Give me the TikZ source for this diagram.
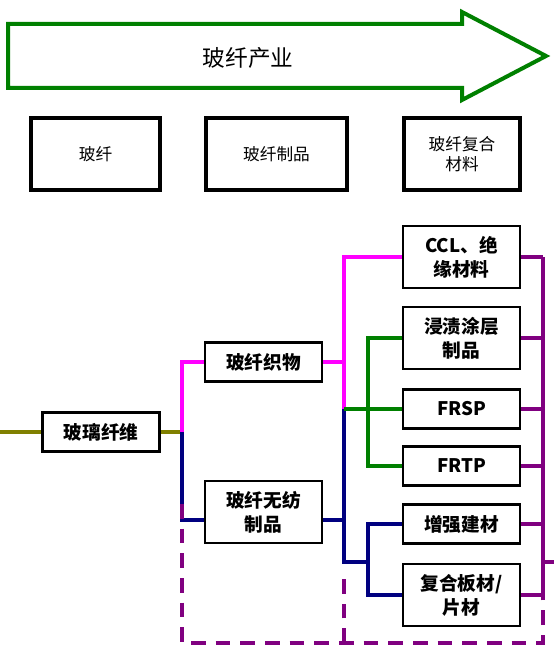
\documentclass[tikz,border=0pt]{standalone}
\usepackage{fontspec}
\setmainfont{Noto Sans CJK SC}
\usepackage{tikz}
\usepackage{xcolor}
\definecolor{arrgreen}{RGB}{0,128,0}
\definecolor{olivel}{RGB}{128,128,0}
\definecolor{magl}{RGB}{255,0,255}
\definecolor{navyl}{RGB}{0,0,128}
\definecolor{greenl}{RGB}{0,128,0}
\definecolor{purpl}{RGB}{128,0,128}
\tikzset{
  topbox/.style={draw,line width=2.6pt,minimum height=54pt,inner sep=0.75pt,align=center,font=\fontsize{12.5}{15.5}\selectfont},
  chainbox/.style={draw,line width=1.6pt,minimum width=87.75pt,minimum height=29.25pt,inner sep=0.75pt,align=center,font=\bfseries\fontsize{14}{18}\selectfont},
  tallbox/.style={chainbox,minimum height=46.5pt},
  link/.style={line width=2.3pt},
  dashlink/.style={line width=3pt,purpl,dash pattern=on 11pt off 7.5pt},
}
\begin{document}
\begin{tikzpicture}[x=0.75pt,y=0.75pt,yscale=-1,xscale=1]
\useasboundingbox (0,0) rectangle (554,660);
% industry arrow
\draw [arrgreen,line width=3pt,line join=miter] (8,24) -- (462,24) -- (462,12) -- (546,56) -- (462,100) -- (462,88) -- (8,88) -- cycle;
\node (ind) at (248,58) {\fontsize{17}{20}\selectfont 玻纤产业};
% stage boxes
\node [topbox,minimum width=96.75pt] (st1) at (95.5,154) {玻纤};
\node [topbox,minimum width=105.75pt] (st2) at (276.5,154) {玻纤制品};
\node [topbox,minimum width=87pt] (st3) at (462,154) {玻纤复合\\材料};
% chain
\node [chainbox] (fib) at (101,432) {玻璃纤维};
\node [chainbox] (fab) at (263.5,362) {玻纤织物};
\node [tallbox] (nw) at (263.5,512) {玻纤无纺\\制品};
\node [tallbox] (ccl) at (461.5,257) {CCL、绝\\缘材料};
\node [tallbox] (imp) at (461.5,338) {浸渍涂层\\制品};
\node [chainbox] (frsp) at (461.5,409) {FRSP};
\node [chainbox] (frtp) at (461.5,466) {FRTP};
\node [chainbox] (bld) at (461.5,524) {增强建材};
\node [tallbox] (pan) at (461.5,595) {复合板材/\\片材};
\coordinate (in) at (0,432);
\coordinate (ja) at (182,432);
\coordinate (jb) at (344,409);
\coordinate (jc) at (368,562);
\coordinate (jd) at (543,562);
\coordinate (out) at (554,562);
% olive
\draw [link,olivel] (in) -- (fib.west);
\draw [link,olivel] (fib.east) -- (ja);
% magenta
\draw [link,magl] (ja) |- (fab.west);
\draw [link,magl] (fab.east) -- (fab.east -| jb);
\draw [link,magl] (jb) |- (ccl.west);
% navy
\draw [link,navyl] (ja) |- ([yshift=6pt]nw.west);
\draw [link,navyl] ([yshift=6pt]nw.east) -- ([yshift=6pt]nw.east -| jb);
\draw [link,navyl] (jb) |- (jc);
\draw [link,navyl] (bld.west) -| (jc) |- (pan.west);
% green
\draw [link,greenl] (jb) -- (frsp.west);
\draw [link,greenl] (imp.west) -| (imp.west -| jc) |- (frtp.west);
% purple
\foreach \b in {ccl,imp,frsp,frtp,bld,pan}
  \draw [link,purpl] (\b.east) -- (\b.east -| jd);
\draw [link,purpl] (ccl.east -| jd) -- (pan.east -| jd);
\draw [link,purpl] (jd) -- (out);
\draw [dashlink] ([yshift=-6pt]nw.west -| ja) -- (182,643) -- (543,643) -- ([yshift=-3pt]pan.east -| jd);
\draw [dashlink] (344,643) -- (344,572);
\end{tikzpicture}
\end{document}
